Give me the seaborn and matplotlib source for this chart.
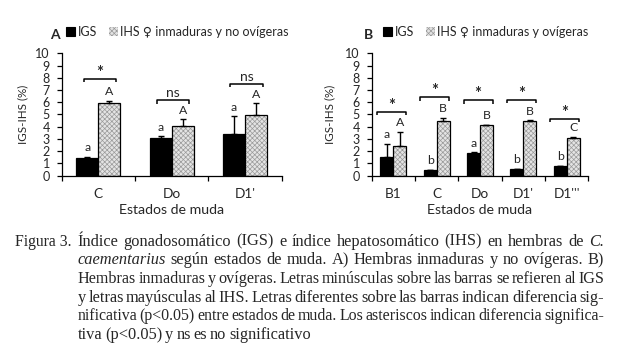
import numpy as np
import pandas as pd
import matplotlib
matplotlib.use("Agg")
import matplotlib.pyplot as plt
import seaborn as sns
from matplotlib.patches import Patch, Rectangle

# ---------------- data ----------------
cats_A = ["C", "Do", "D1'"]
igs_A = [1.45, 3.05, 3.40]
igs_A_err = [0.10, 0.17, 1.47]
ihs_A = [5.90, 4.10, 4.98]
ihs_A_err = [0.22, 0.50, 0.92]
let_igs_A = ["a", "a", "a"]
let_ihs_A = ["A", "A", "A"]
sig_A = ["*", "ns", "ns"]
brk_A = [7.90, 6.15, 7.50]

cats_B = ["B1", "C", "Do", "D1'", "D1'''"]
igs_B = [1.55, 0.45, 1.85, 0.55, 0.78]
igs_B_err = [1.06, 0.05, 0.05, 0.03, 0.05]
ihs_B = [2.45, 4.47, 4.12, 4.48, 3.10]
ihs_B_err = [1.15, 0.27, 0.05, 0.03, 0.08]
let_igs_B = ["a", "b", "a", "b", "b"]
let_ihs_B = ["A", "B", "B", "B", "C"]
sig_B = ["*", "*", "*", "*", "*"]
brk_B = [5.23, 6.40, 6.16, 6.18, 4.66]

yticks = list(range(0, 11))
ylabel = "IGS-IHS (%)"
xlabel = "Estados de muda"
legend_A = ["IGS", "IHS \u2640 inmaduras y no ovígeras"]
legend_B = ["IGS", "IHS \u2640 inmaduras y ovígeras"]

caption = [
    [("Índice", 0), ("gonadosomático", 0), ("(IGS)", 0), ("e", 0), ("índice", 0), ("hepatosomático", 0),
     ("(IHS)", 0), ("en", 0), ("hembras", 0), ("de", 0), ("C.", 1)],
    [("caementarius", 1), ("según", 0), ("estados", 0), ("de", 0), ("muda.", 0), ("A)", 0), ("Hembras", 0),
     ("inmaduras", 0), ("y", 0), ("no", 0), ("ovígeras.", 0), ("B)", 0)],
    [(w, 0) for w in "Hembras inmaduras y ovígeras. Letras minúsculas sobre las barras se refieren al IGS".split()],
    [(w, 0) for w in "y letras mayúsculas al IHS. Letras diferentes sobre las barras indican diferencia sig-".split()],
    [(w, 0) for w in "nificativa (p<0.05) entre estados de muda. Los asteriscos indican diferencia significa-".split()],
    [(w, 0) for w in "tiva (p<0.05) y ns es no significativo".split()],
]

# ---------------- style ----------------
sns.set_style("ticks")
plt.rcParams['font.family'] = ['Lato', 'DejaVu Sans']
plt.rcParams['hatch.linewidth'] = 0.5

W, H = 620, 364
fig = plt.figure(figsize=(6.2, 3.64), dpi=100)
fig.patch.set_facecolor("white")


def ax_rect(l, r, t, b):
    return [l / W, 1 - b / H, (r - l) / W, (b - t) / H]


axA = fig.add_axes(ax_rect(61.7, 281.7, 53.3, 175.7))
axB = fig.add_axes(ax_rect(371.7, 588.3, 53.3, 175.7))

FS_LET = 8.8
FS_TICK = 9.0
FS_LAB = 10.2
FS_LEG = 9.0
HATCH_FC = "#e4e4e4"
HATCH_EC = "#9a9a9a"
HATCH = "xxxxxxx"


def panel(ax, cats, igs, igs_err, ihs, ihs_err, l_igs, l_ihs, sig, brk, bl, br, ylab_x):
    n = len(cats)
    df = pd.DataFrame({"estado": cats * 2,
                       "serie": ["IGS"] * n + ["IHS"] * n,
                       "valor": igs + ihs})
    sns.barplot(data=df, x="estado", y="valor", hue="serie", order=cats,
                hue_order=["IGS", "IHS"], palette={"IGS": "black", "IHS": "white"},
                width=0.6, errorbar=None, legend=False, ax=ax, saturation=1,
                edgecolor="black", linewidth=0.9)
    c_igs, c_ihs = ax.containers[0], ax.containers[1]
    for p in c_ihs:
        p.set_facecolor(HATCH_FC)
        p.set_edgecolor(HATCH_EC)
        p.set_hatch(HATCH)
        p.set_linewidth(0)
        ax.add_patch(Rectangle((p.get_x(), p.get_y()), p.get_width(), p.get_height(),
                               fill=False, ec="black", lw=0.9, zorder=p.get_zorder() + 0.1))
    for cont, err, labs in ((c_igs, igs_err, l_igs), (c_ihs, ihs_err, l_ihs)):
        xs = [p.get_x() + p.get_width() / 2 for p in cont]
        hs = [p.get_height() for p in cont]
        ax.errorbar(xs, hs, yerr=[np.zeros(len(err)), err], fmt="none", ecolor="black",
                    elinewidth=1.0, capsize=2.5, capthick=1.0, zorder=3)
        for x, h, e, lab in zip(xs, hs, err, labs):
            ax.annotate(lab, (x, h + e), xytext=(0, 2.5), textcoords="offset points",
                        ha="center", va="bottom", fontsize=FS_LET)
    for i, (y, s) in enumerate(zip(brk, sig)):
        x0, x1 = i + bl, i + br
        ax.plot([x0, x0, x1, x1], [y - 0.27, y, y, y - 0.27], color="black", lw=1.1,
                clip_on=False, solid_capstyle="butt")
        if s == "*":
            ax.annotate(s, ((x0 + x1) / 2, y), xytext=(0, -1.5), textcoords="offset points",
                        ha="center", va="bottom", fontsize=12, fontweight="bold")
        else:
            ax.annotate(s, ((x0 + x1) / 2, y), xytext=(0, 2.2), textcoords="offset points",
                        ha="center", va="baseline", fontsize=10)

    ax.set_ylim(0, 10)
    ax.set_xlim(-0.5, n - 0.5)
    ax.set_yticks(yticks)
    ax.set_yticklabels([str(t) for t in yticks], fontsize=FS_TICK)
    ax.set_xticks([i - 0.5 for i in range(n + 1)])
    ax.set_xticklabels([])
    ax.set_xticks(list(range(n)), minor=True)
    ax.set_xticklabels(cats, minor=True, fontsize=FS_LAB - 0.4)
    ax.tick_params(axis="x", which="minor", length=0, pad=9)
    ax.tick_params(axis="x", which="major", length=3.5, width=0.9, direction="out", color="black")
    ax.tick_params(axis="y", length=3.5, width=0.9, direction="out", color="black", pad=5)
    for s in ("top", "right"):
        ax.spines[s].set_visible(False)
    for s in ("left", "bottom"):
        ax.spines[s].set_color("black")
        ax.spines[s].set_linewidth(0.9)
    ax.set_ylabel(ylabel, fontsize=FS_TICK - 0.6)
    ax.yaxis.set_label_coords(ylab_x, 0.5)
    ax.yaxis.label.set_va("center")
    ax.set_xlabel(xlabel, fontsize=FS_LAB)
    ax.xaxis.set_label_coords(0.5, -(210 - 175.7) / 122.4)
    ax.xaxis.label.set_va("center")
    ax.set_facecolor("white")


panel(axA, cats_A, igs_A, igs_A_err, ihs_A, ihs_A_err, let_igs_A, let_ihs_A, sig_A, brk_A,
      -0.20, 0.24, (23 - 61.7) / 220)
panel(axB, cats_B, igs_B, igs_B_err, ihs_B, ihs_B_err, let_igs_B, let_ihs_B, sig_B, brk_B,
      -0.38, 0.29, (330 - 371.7) / 216.6)

# legends and panel letters
handles = [Patch(facecolor="black", edgecolor="black", lw=0.8),
           Patch(facecolor=HATCH_FC, edgecolor=HATCH_EC, hatch=HATCH, lw=0)]
for ax, labels, lx, px, plab in ((axA, legend_A, 66, 50, "A"), (axB, legend_B, 383, 364, "B")):
    leg = ax.legend(handles, labels, ncol=2, loc="center left",
                    bbox_to_anchor=(lx / W, 1 - 32 / H), bbox_transform=fig.transFigure,
                    frameon=False, fontsize=FS_LEG, handlelength=0.75, handleheight=0.75,
                    handletextpad=0.2, columnspacing=0.9, borderpad=0, borderaxespad=0)
    fig.text(px / W, 1 - 35 / H, plab, fontsize=10, fontweight="bold",
             ha="left", va="center")

# caption (justified)
fig.canvas.draw()
renderer = fig.canvas.get_renderer()
x_left, x_right = 77.7, 604.0
base0, dy = 245.7, 18.6
CAP_FS = 11.8
fig.text(15 / W, 1 - base0 / H, "Figura 3.", family="Liberation Serif", fontsize=11.3,
         ha="left", va="baseline")
for li, words in enumerate(caption):
    yb = 1 - (base0 + li * dy) / H
    fs = CAP_FS
    last = li == len(caption) - 1
    while True:
        arts = [fig.text(0, yb, w, family="Liberation Serif", fontsize=fs,
                         style="italic" if it else "normal", ha="left", va="baseline")
                for w, it in words]
        widths = [a.get_window_extent(renderer).width for a in arts]
        total = sum(widths)
        if last or total + (len(words) - 1) * 2.2 <= (x_right - x_left) or fs < 8:
            break
        for a in arts:
            a.remove()
        fs -= 0.1
    if last:
        gap = 2.8
    else:
        gap = ((x_right - x_left) - total) / (len(words) - 1)
    x = x_left
    for a, w in zip(arts, widths):
        a.set_x(x / W)
        x += w + gap

fig.savefig("out.png", dpi=100, facecolor="white")
